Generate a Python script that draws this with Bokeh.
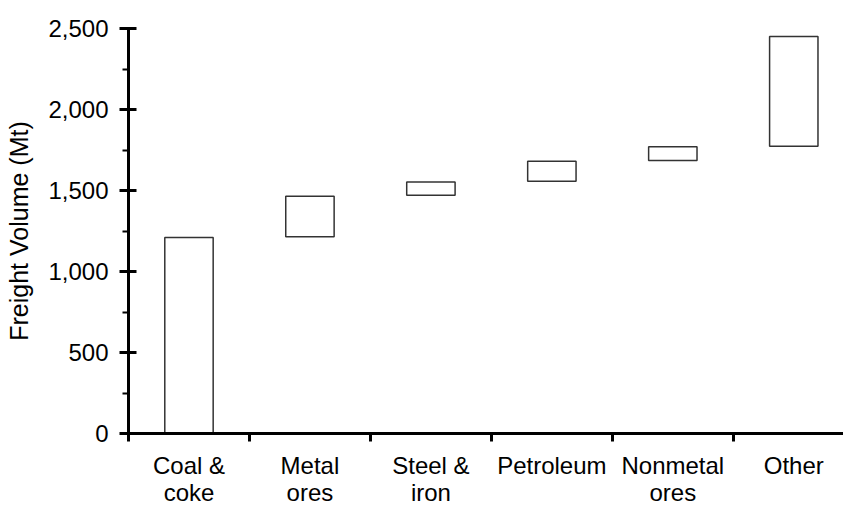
from bokeh.plotting import figure
from bokeh.models import Range1d, FixedTicker, LinearAxis, ColumnDataSource, NumeralTickFormatter
from bokeh.embed import file_html
from bokeh.resources import INLINE

categories = ["Coal &\ncoke", "Metal\nores", "Steel &\niron", "Petroleum", "Nonmetal\nores", "Other"]
bar_start = [0, 1215, 1470, 1557, 1685, 1773]
bar_end = [1210, 1465, 1553, 1681, 1770, 2450]
y_ticks = [0, 500, 1000, 1500, 2000, 2500]
y_minor = [250, 750, 1250, 1750, 2250]

FONT = "Liberation Sans"
FS = "24px"

centers = [i + 0.5 for i in range(len(categories))]
bounds = list(range(len(categories) + 1))
src = ColumnDataSource(dict(x=centers, bottom=bar_start, top=bar_end))

p = figure(width=843, height=508, output_backend="svg", toolbar_location=None,
           x_range=Range1d(0, 5.911), y_range=Range1d(0, 2500),
           min_border_left=128, min_border_right=0, min_border_top=28, min_border_bottom=75,
           x_axis_type=None, y_axis_type=None)
p.outline_line_color = None
p.xgrid.visible = False
p.ygrid.visible = False

p.vbar(x="x", width=0.4, bottom="bottom", top="top", source=src,
       fill_color="white", line_color="#333333", line_width=1.5)

yaxis = LinearAxis(ticker=FixedTicker(ticks=y_ticks, minor_ticks=y_minor))
yaxis.formatter = NumeralTickFormatter(format="0,0")
yaxis.axis_line_width = 3
yaxis.axis_line_color = "black"
yaxis.major_tick_line_width = 3
yaxis.major_tick_in = 8
yaxis.major_tick_out = 9
yaxis.minor_tick_line_width = 2
yaxis.minor_tick_in = 0
yaxis.minor_tick_out = 6
yaxis.major_label_standoff = 11
yaxis.major_label_text_font = FONT
yaxis.major_label_text_font_size = FS
yaxis.major_label_text_color = "black"
yaxis.axis_label = "Freight Volume (Mt)"
yaxis.axis_label_text_font = FONT
yaxis.axis_label_text_font_size = "25px"
yaxis.axis_label_text_font_style = "normal"
yaxis.axis_label_text_color = "black"
yaxis.axis_label_standoff = 12
p.add_layout(yaxis, "left")

xaxis = LinearAxis(ticker=FixedTicker(ticks=centers, minor_ticks=bounds))
xaxis.major_label_overrides = {c: lab for c, lab in zip(centers, categories)}
xaxis.axis_line_width = 3
xaxis.axis_line_color = "black"
xaxis.major_tick_line_color = None
xaxis.major_tick_in = 0
xaxis.major_tick_out = 0
xaxis.minor_tick_line_width = 3
xaxis.minor_tick_line_color = "black"
xaxis.minor_tick_in = 0
xaxis.minor_tick_out = 8
xaxis.major_label_standoff = 10
xaxis.major_label_text_font = FONT
xaxis.major_label_text_font_size = FS
xaxis.major_label_text_color = "black"
xaxis.major_label_text_line_height = 1.0
p.add_layout(xaxis, "below")

open("out.html", "w").write(file_html(p, INLINE))
